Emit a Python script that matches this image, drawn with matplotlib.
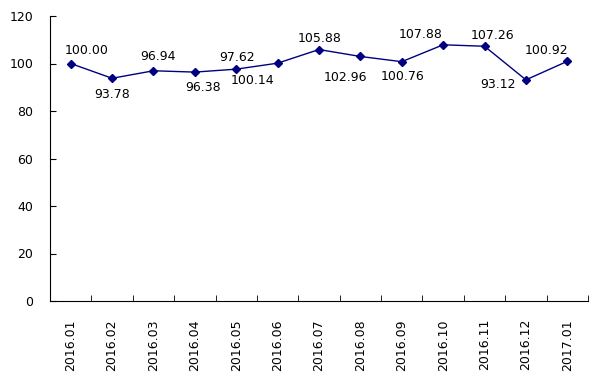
import numpy as np
import matplotlib
matplotlib.use("Agg")
import matplotlib.pyplot as plt

months = ["2016.01", "2016.02", "2016.03", "2016.04", "2016.05", "2016.06", "2016.07",
          "2016.08", "2016.09", "2016.10", "2016.11", "2016.12", "2017.01"]
values = [100.00, 93.78, 96.94, 96.38, 97.62, 100.14, 105.88,
          102.96, 100.76, 107.88, 107.26, 93.12, 100.92]
# label offsets from the point, in pixels
label_off = [(16, 13), (0, -16), (5, 14), (8, -15), (1, 12), (-25, -17), (1, 11),
             (-15, -21), (1, -15), (-23, 10), (8, 11), (-28, -5), (-21, 11)]

plt.rcParams['font.family'] = ['DejaVu Sans']
fig = plt.figure(figsize=(6.07, 3.78), dpi=100)
ax = fig.add_axes([50/607, 1-301/378, 538/607, 285/378])

x = np.arange(len(values))
ax.plot(x, values, color="#000080", linewidth=1, marker="D", markersize=4)

for i, v in enumerate(values):
    dx, dy = label_off[i]
    ax.annotate("%.2f" % v, (x[i], v), xytext=(dx, dy), textcoords="offset pixels",
                ha="center", va="center", fontsize=9, color="black")

ax.set_xlim(-0.5, len(values) - 0.5)
ax.set_ylim(0, 120)
ax.set_yticks(range(0, 121, 20))
ax.set_xticks(x)
ax.set_xticklabels(months, rotation=90, fontsize=9)
ax.set_xticks(np.arange(-0.5, len(values), 1), minor=True)
ax.tick_params(axis="x", which="major", length=0, pad=13)
ax.tick_params(axis="x", which="minor", direction="in", length=4)
ax.tick_params(axis="y", direction="in", length=4, pad=12, labelsize=9)

for s in ["top", "right"]:
    ax.spines[s].set_visible(False)

fig.savefig("out.png", dpi=100)
